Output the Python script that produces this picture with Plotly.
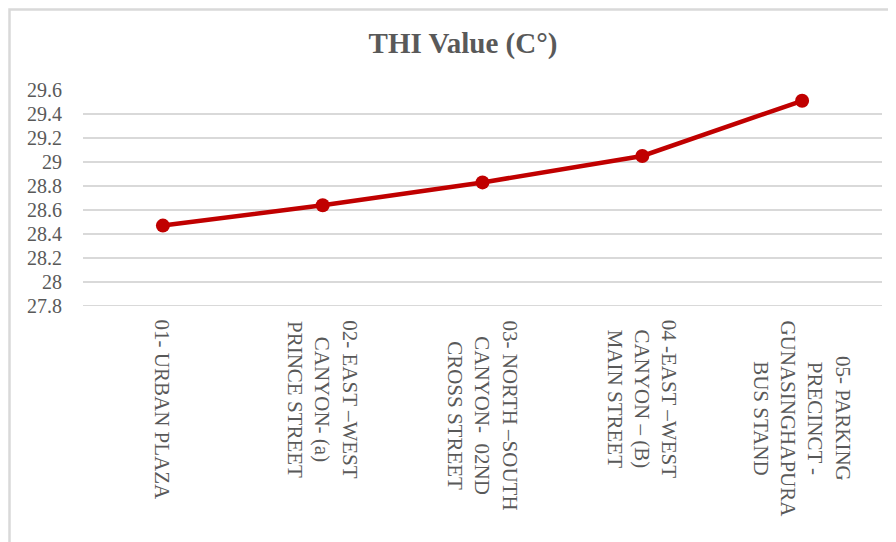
import plotly.graph_objects as go

categories = [
    "01- URBAN PLAZA",
    "02- EAST –WEST<br>CANYON- (a)<br>PRINCE STREET",
    "03- NORTH –SOUTH<br>CANYON-  02ND<br>CROSS STREET",
    "04 -EAST –WEST<br>CANYON – (B)<br>MAIN STREET",
    "05- PARKING<br>PRECINCT -<br>GUNASINGHAPURA<br>BUS STAND",
]
thi_values = [28.47, 28.64, 28.83, 29.05, 29.51]
y_ticks = [27.8, 28.0, 28.2, 28.4, 28.6, 28.8, 29.0, 29.2, 29.4, 29.6]
y_tick_labels = ["27.8", "28", "28.2", "28.4", "28.6", "28.8", "29", "29.2", "29.4", "29.6"]

W, H = 896, 542
OFF = 8  # page offset of the figure div
L, R, T, B = 75, 22, 82, 244
pw, ph = W - L - R, H - T - B

def px_x(x):  # page pixel -> paper
    return (x - OFF - L) / pw

def px_y(y):
    return (H - B - (y - OFF)) / ph

fig = go.Figure()
fig.add_trace(go.Scatter(
    x=list(range(len(categories))), y=thi_values, mode="lines+markers",
    line=dict(color="#c00000", width=4.5),
    marker=dict(color="#c00000", size=14),
    showlegend=False,
))

annotations = [
    dict(text=c, xref="x", x=i, yref="paper", y=0, xanchor="center", yanchor="top",
         yshift=-12, textangle=90, align="center", showarrow=False,
         font=dict(size=21, color="#595959", family="Liberation Serif"))
    for i, c in enumerate(categories)
]

fig.update_layout(
    width=W, height=H,
    margin=dict(l=L, r=R, t=T, b=B, autoexpand=False),
    paper_bgcolor="white", plot_bgcolor="white",
    font=dict(family="Liberation Serif", color="#595959"),
    title=dict(text="<b>THI Value (C°)</b>", x=(463 - OFF) / W, xanchor="center",
               y=1 - (43 - OFF) / H, yanchor="middle",
               font=dict(size=29, color="#595959", family="Liberation Serif")),
    xaxis=dict(
        range=[-0.5, len(categories) - 0.5],
        tickmode="array", tickvals=list(range(len(categories))),
        ticktext=[""] * len(categories),
        showgrid=False, zeroline=False, showline=False, automargin=False,
    ),
    yaxis=dict(
        range=[27.8, 29.6],
        tickmode="array", tickvals=y_ticks, ticktext=y_tick_labels,
        showgrid=True, gridcolor="#d9d9d9", gridwidth=2,
        zeroline=False, showline=False, automargin=False,
        tickfont=dict(size=20, color="#595959"),
        ticklabelstandoff=20,
    ),
    annotations=annotations,
    shapes=[
        dict(type="rect", xref="paper", yref="paper",
             x0=px_x(9.5), x1=px_x(910), y0=px_y(560), y1=px_y(9.5),
             line=dict(color="#d9d9d9", width=2.5), fillcolor="rgba(0,0,0,0)",
             layer="below"),
        dict(type="line", xref="paper", yref="y",
             x0=0, x1=1, y0=27.8, y1=27.8,
             line=dict(color="#d9d9d9", width=2), layer="below"),
    ],
)

fig.write_html("out.html")
